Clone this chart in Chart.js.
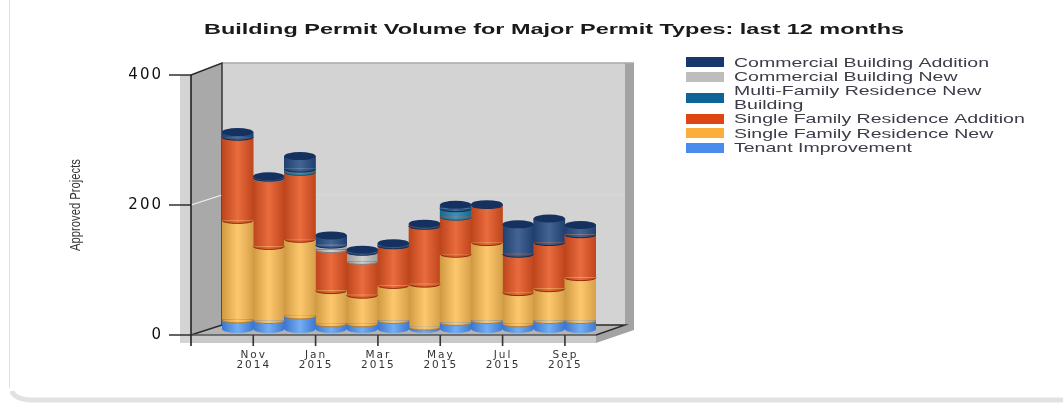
<!DOCTYPE html>
<html><head><meta charset="utf-8">
<style>html,body{margin:0;padding:0;background:#fff}canvas{display:block;filter:blur(.35px)}</style>
<script src="https://cdn.jsdelivr.net/npm/chart.js@4/dist/chart.umd.min.js"></script>
</head><body><canvas id="c" width="1063" height="404"></canvas>
<script>
const categories=[['Oct','2014'],['Nov','2014'],['Dec','2014'],['Jan','2015'],['Feb','2015'],['Mar','2015'],['Apr','2015'],['May','2015'],['Jun','2015'],['Jul','2015'],['Aug','2015'],['Sep','2015']];
const tenantImprovement=[14,13,20,8,8,13,3,10,13,8,13,13];
const singleFamilyNew=[153,114,118,51,44,54,66,105,120,48,49,66];
const singleFamilyAddition=[128,104,103,63,52,61,89,57,57,59,71,66];
const multiFamilyNew=[0,0,5,0,0,0,0,13,0,0,0,0];
const commercialNew=[0,1,0,7,14,0,0,0,0,0,0,0];
const commercialAddition=[8,3,20,15,4,4,4,6,2,46,37,15];
const titleText='Building Permit Volume for Major Permit Types: last 12 months';
const yAxisText='Approved Projects';

const shades={
 tenant:['#3a76cf','#74aef2','#3c78d2','#3a76cf'],
 sfNew:['#cf9a42','#fdc86d','#d6a04a','#b07c30'],
 sfAdd:['#bd441c','#e96c3e','#bf451c','#8e2d0e'],
 mf:['#1b678f','#3c92b8','#1b678f','#12506f'],
 cNew:['#9c9c9c','#cfcfcf','#a0a0a0','#808080'],
 cAdd:['#20406f','#446593','#20406f','#14294e']
};
function grad(key){
 return c=>{
  const ch=c.chart,xs=ch.scales.x; if(!xs||c.dataIndex===undefined) return shades[key][0];
  const x=xs.getPixelForValue(c.dataIndex),w=xs.width/categories.length;
  if(!isFinite(x)||!isFinite(w)||w<=0) return shades[key][0];
  return barGrad(ch.ctx,x,w,key);
 };
}
function barGrad(ctx,x,w,key){
 const g=ctx.createLinearGradient(x-w/2,0,x+w/2,0),s=shades[key];
 g.addColorStop(0,s[0]);g.addColorStop(.5,s[1]);g.addColorStop(1,s[2]);return g;
}
const seriesDefs=[
 ['Tenant Improvement',tenantImprovement,'tenant','#4a8cec'],
 ['Single Family Residence New',singleFamilyNew,'sfNew','#fbae3c'],
 ['Single Family Residence Addition',singleFamilyAddition,'sfAdd','#dd4613'],
 ['Multi-Family Residence New Building',multiFamilyNew,'mf','#0f6396'],
 ['Commercial Building New',commercialNew,'cNew','#bdbdbd'],
 ['Commercial Building Addition',commercialAddition,'cAdd','#17386e']
];
function line(ctx,pts,color,w){
 ctx.beginPath();pts.forEach((p,i)=>i?ctx.lineTo(p[0],p[1]):ctx.moveTo(p[0],p[1]));
 ctx.strokeStyle=color;ctx.lineWidth=w||1;ctx.stroke();
}
function poly(ctx,pts,fill){
 ctx.beginPath();pts.forEach((p,i)=>i?ctx.lineTo(p[0],p[1]):ctx.moveTo(p[0],p[1]));
 ctx.closePath();ctx.fillStyle=fill;ctx.fill();
}
function stretched(ctx,text,x,y,font,sx,color){
 ctx.save();ctx.letterSpacing='0px';ctx.font=font;ctx.fillStyle=color;ctx.textBaseline='middle';ctx.textAlign='left';
 ctx.translate(x,y);ctx.scale(sx,1);ctx.fillText(text,0,0);ctx.restore();
}
const OFF=6;
const frame={
 id:'frame',
 beforeDraw(ch){
  const ctx=ch.ctx,xs=ch.scales.x,ys=ch.scales.y;
  ctx.letterSpacing='2px';
  ctx.save();
  // page panel edge
  ctx.strokeStyle='#e0e0e0';ctx.lineWidth=1;
  ctx.beginPath();ctx.moveTo(9.5,0);ctx.lineTo(9.5,388);ctx.stroke();
  ctx.strokeStyle='#e2e2e2';ctx.lineWidth=5;
  ctx.beginPath();ctx.moveTo(12,391);ctx.quadraticCurveTo(14,399,30,400);ctx.lineTo(1063,400);ctx.stroke();
  const F=ys.getPixelForValue(0)+OFF,T=ys.getPixelForValue(400)+OFF,D=31,R=F-10,Q=T-12;
  const L=ch.chartArea.left-D,BR=ch.chartArea.right;
  const backR=BR+29;
  // side bands
  ctx.fillStyle='#d4d4d4';ctx.fillRect(L-11,T,11,F+8-T);
  ctx.fillStyle='#c9c9c9';ctx.fillRect(L,F,BR-L,8);
  // right outer wall
  poly(ctx,[[backR,Q],[backR+9,Q],[backR+9,R+5],[BR,F+8],[BR,F],[backR,R]],'#a3a3a3');
  // back wall
  ctx.fillStyle='#d3d3d3';ctx.fillRect(L+D,Q,backR-L-D,R-Q);
  // left wall
  poly(ctx,[[L,T],[L+D,Q],[L+D,R],[L,F]],'#a9a9a9');
  // floor
  poly(ctx,[[L,F],[L+D,R],[backR,R],[BR,F]],'#b4b4b4');
  // grid at 200
  const g=ys.getPixelForValue(200)+OFF;
  line(ctx,[[L,g],[L+D,g-10]],'#f2f2f2',1.2);
  line(ctx,[[L+D,g-10],[backR,g-10]],'#d9d9d9',1);
  // wall outline
  line(ctx,[[L+D,Q],[backR+9,Q]],'#a9a9a9',1.5);
  line(ctx,[[L,T],[L+D,Q],[L+D,R]],'#2b2b2b',1.4);
  line(ctx,[[L,F],[L+D,R],[backR,R],[BR,F]],'#2b2b2b',1.4);
  line(ctx,[[L,F],[BR,F]],'#555',1.4);
  line(ctx,[[L,T],[L,F+11]],'#222',1.6);
  // y tick marks
  [0,200,400].forEach(v=>{const y=ys.getPixelForValue(v)+OFF;line(ctx,[[L-22,y],[L,y]],'#222',1.4);});
  // x tick marks
  xs.ticks.forEach((t,i)=>{ if(i%2){const x=xs.getPixelForTick(i)-15.5;line(ctx,[[x,F],[x,F+11]],'#333',1.6);} });
  // title and labels
  ctx.font='bold 15px "Liberation Sans"';ctx.letterSpacing='0px';
  const tw=ctx.measureText(titleText).width;ctx.letterSpacing='2px';
  stretched(ctx,titleText,204,29.5,'bold 15px "Liberation Sans"',700/tw,'#1a1a1a');
  // y title
  ctx.save();ctx.translate(76,251);ctx.rotate(-Math.PI/2);
  ctx.font='14px "Liberation Sans"';ctx.letterSpacing='0px';
  const yw=ctx.measureText(yAxisText).width;
  stretched(ctx,yAxisText,0,0,'14px "Liberation Sans"',92/yw,'#333');ctx.restore();
  // legend
  const lf='13px "Liberation Sans"';ctx.font=lf;ctx.letterSpacing='0px';
  const sx=255/ctx.measureText('Commercial Building Addition').width;ctx.letterSpacing='2px';
  const rows=[[5,62,[['Commercial Building Addition',63]]],[4,77,[['Commercial Building New',77]]],
   [3,98,[['Multi-Family Residence New',91],['Building',105]]],[2,119,[['Single Family Residence Addition',119]]],
   [1,133,[['Single Family Residence New',134]]],[0,148,[['Tenant Improvement',148]]]];
  rows.forEach(r=>{
   ctx.fillStyle=seriesDefs[r[0]][3];ctx.fillRect(686,r[1]-5,38,10);
   r[2].forEach(t=>stretched(ctx,t[0],734,t[1],lf,sx,'#3c3c48'));
  });
  ctx.restore();
 },
 afterDatasetsDraw(ch){
  const ctx=ch.ctx,xs=ch.scales.x,RY=4,RB=3;
  ctx.save();
  categories.forEach((_,i)=>{
   const x=xs.getPixelForValue(i),w=xs.width/categories.length;
   let top=null;
   seriesDefs.forEach((d,k)=>{
    if(!d[1][i]) return;
    const el=ch.getDatasetMeta(k).data[i];
    const key=d[2];
    const ry=k===0?RY:RB;
    ctx.beginPath();ctx.ellipse(x,el.base,w/2,ry,0,0,Math.PI);ctx.closePath();
    ctx.fillStyle=barGrad(ctx,x,w,key);ctx.fill();
    if(k>0){
     ctx.beginPath();ctx.ellipse(x,el.base,w/2,ry,0,0,Math.PI);
     ctx.strokeStyle=shades[key][3];ctx.lineWidth=1;ctx.stroke();
    }
    top={y:el.y,key};
   });
   if(top){
    ctx.beginPath();ctx.ellipse(x,top.y,w/2,RY,0,0,Math.PI*2);
    ctx.fillStyle='#15315f';ctx.fill();
   }
  });
  ctx.restore();
 }
};
new Chart(document.getElementById('c'),{
 type:'bar',
 data:{labels:categories,datasets:seriesDefs.map(d=>({label:d[0],data:d[1],backgroundColor:grad(d[2]),borderWidth:0,barPercentage:1,categoryPercentage:1}))},
 options:{
  responsive:false,animation:false,events:[],
  layout:{padding:{left:0,right:467,top:69,bottom:0}},
  plugins:{legend:{display:false},title:{display:false},tooltip:{enabled:false}},
  scales:{
   x:{stacked:true,grid:{display:false},border:{display:false},
    afterFit(s){s.height=75;},
    ticks:{autoSkip:false,maxRotation:0,minRotation:0,padding:13,labelOffset:-15,color:'#333',
     font:{family:'"DejaVu Sans"',size:10.5,lineHeight:.95},
     callback(v,i){return i%2?categories[i]:'';}}},
   y:{stacked:true,min:0,max:400,grid:{display:false},border:{display:false},
    afterFit(s){s.width=222;},
    ticks:{stepSize:200,padding:51,labelOffset:OFF,color:'#111',font:{family:'"DejaVu Sans"',size:15}}}
  }
 },
 plugins:[frame]
});
</script></body></html>
